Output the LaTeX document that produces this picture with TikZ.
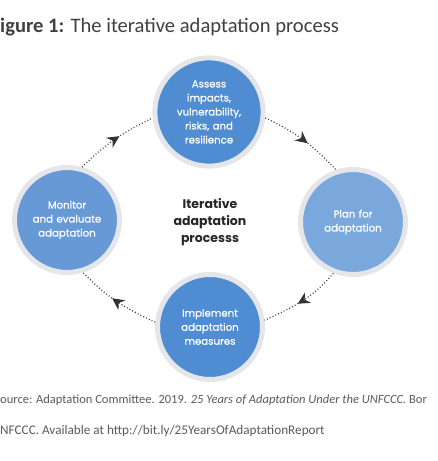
\documentclass[tikz,border=0pt]{standalone}
\usepackage{fontspec}
\setmainfont{Carlito}
\newfontfamily\circfont[FakeBold=0.8]{Poppins}
\newfontfamily\centrefont{Poppins}
\usetikzlibrary{arrows.meta,decorations.markings}

\definecolor{ringgrey}{HTML}{E4E6E9}
\definecolor{blueA}{HTML}{4F8CD1}
\definecolor{blueB}{HTML}{7AA7DC}
\definecolor{blueC}{HTML}{6799D6}
\definecolor{capgrey}{HTML}{5A5A5A}

\begin{document}
\begin{tikzpicture}[x=1pt, y=1pt]
		% Node style
		\tikzstyle{stage} = [circle, draw=ringgrey, line width=5pt, fill=blueA, minimum size=105pt, inner sep=0pt, text width=88pt, align=center, text=white, font=\circfont\fontsize{10.2}{14}\selectfont]
		\tikzstyle{cycle} = [draw=black!80, line width=1.2pt, dash pattern=on 0.9pt off 2.2pt, postaction={decorate}, decoration={markings, mark=at position 0.56 with {\arrow[solid]{Stealth[length=12pt, width=12pt]}}}]
		
		\useasboundingbox (0,0) rectangle (437,461);
		
		% Title and source
		\node[anchor=base west, inner sep=0pt, text=black!75, font=\fontsize{20.6}{22}\selectfont] (title) at (0,428) {\textbf{igure 1:} The iterative adaptation process};
		\node[anchor=base west, inner sep=0pt, text=capgrey, font=\fontsize{12.5}{14}\selectfont] (source) at (0,57) {ource: Adaptation Committee. 2019. \textit{25 Years of Adaptation Under the UNFCCC.} Bor};
		\node[anchor=base west, inner sep=0pt, text=capgrey, font=\fontsize{13.2}{14}\selectfont] (avail) at (0,27) {NFCCC. Available at http://bit.ly/25YearsOfAdaptationReport};
		
		% Nodes
		\node[font=\centrefont\bfseries\fontsize{12.5}{17}\selectfont, text=black!85, align=center] (centre) at (210,239) {Iterative\\adaptation\\processs};
		\node[stage] (assess) at (209,349) {Assess\\impacts,\\vulnerability,\\risks, and\\resilience};
		\node[stage, fill=blueB] (plan) at (353,239) {Plan for\\adaptation};
		\node[stage] (implement) at (210,134) {Implement\\adaptation\\measures};
		\node[stage, fill=blueC] (monitor) at (67,241) {Monitor\\and evaluate\\adaptation};
		
		% Arrows
		\draw[cycle] (assess.-6) to[out=-25, in=134] (plan.108);
		\draw[cycle] (plan.-111) to[out=-130, in=25] (implement.7);
		\draw[cycle] (implement.175) to[out=155, in=-46] (monitor.-73);
		\draw[cycle] (monitor.74) to[out=45, in=-154] (assess.186);
	\end{tikzpicture}
\end{document}
